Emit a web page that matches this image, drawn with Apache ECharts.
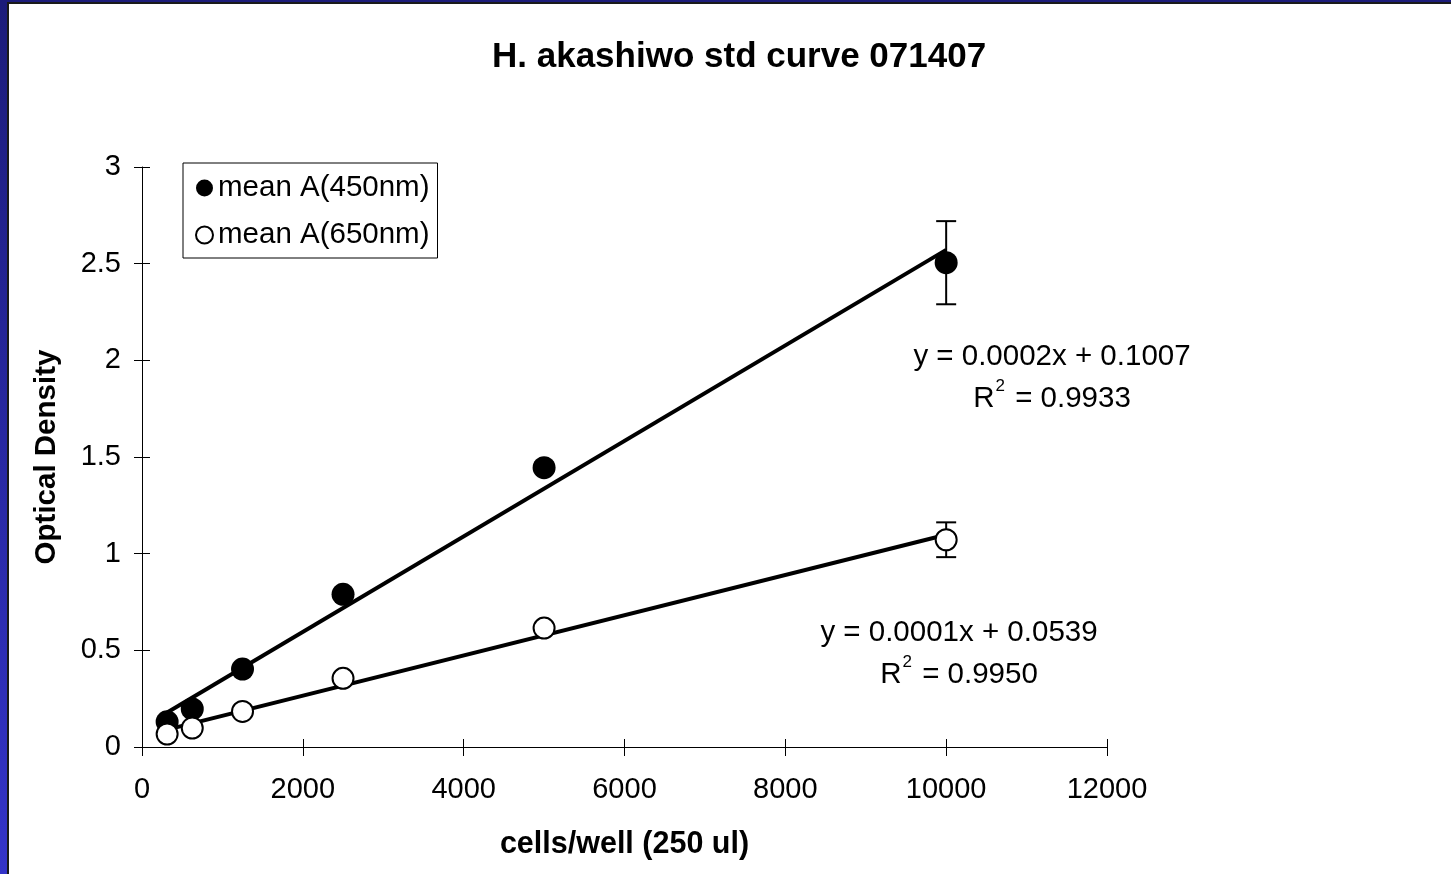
<!DOCTYPE html>
<html>
<head>
<meta charset="utf-8">
<script src="https://cdn.jsdelivr.net/npm/echarts@6/dist/echarts.min.js"></script>
<style>
  html, body { margin: 0; padding: 0; }
  #frame { position: absolute; left: 0; top: 0; width: 1451px; height: 874px;
           background: linear-gradient(to bottom, #1c1c7a, #3434c8); }
  #paper { position: absolute; left: 7px; top: 2px; right: 0; bottom: 0; background: #fff;
           border-left: 2px solid #1a1a1a; border-top: 2px solid #1a1a1a; }
  #chart { position: absolute; left: 0; top: 0; width: 1451px; height: 874px; }
</style>
</head>
<body>
<div id="frame"><div id="paper"></div></div>
<div id="chart"></div>
<script>
// cells per well
var cells = [312.5, 625, 1250, 2500, 5000, 10000];
// mean absorbance at 450 nm and 650 nm
var a450 = [0.13, 0.197, 0.403, 0.79, 1.445, 2.505];
var a650 = [0.067, 0.098, 0.184, 0.355, 0.615, 1.072];
// error bar half-heights
var err450 = [0.012, 0.012, 0.012, 0.012, 0.012, 0.215];
var err650 = [0.006, 0.006, 0.006, 0.006, 0.006, 0.09];
// trendline labels
var eq450 = ['y = 0.0002x + 0.1007', '0.9933'];
var eq650 = ['y = 0.0001x + 0.0539', '0.9950'];

var FONT = 'Liberation Sans, Arial, sans-serif';

function pairs(xs, ys) {
    return xs.map(function (x, i) { return [x, ys[i]]; });
}
function errData(xs, ys, es) {
    return xs.map(function (x, i) { return [x, ys[i] - es[i], ys[i] + es[i]]; });
}
// least squares line over the data range (the Excel trendline)
function fit(xs, ys) {
    var n = xs.length, mx = 0, my = 0, sxy = 0, sxx = 0;
    for (var i = 0; i < n; i++) { mx += xs[i] / n; my += ys[i] / n; }
    for (var i = 0; i < n; i++) { sxy += (xs[i] - mx) * (ys[i] - my); sxx += (xs[i] - mx) * (xs[i] - mx); }
    var b = sxy / sxx, a = my - b * mx;
    var x0 = xs[0], x1 = xs[n - 1];
    return [[x0, a + b * x0], [x1, a + b * x1]];
}

function errorBar(params, api) {
    var x = api.value(0);
    var lo = api.coord([x, api.value(1)]);
    var hi = api.coord([x, api.value(2)]);
    var w = 10;
    var st = { stroke: '#000', lineWidth: 2 };
    return {
        type: 'group',
        children: [
            { type: 'line', shape: { x1: hi[0], y1: hi[1], x2: lo[0], y2: lo[1] }, style: st },
            { type: 'line', shape: { x1: hi[0] - w, y1: hi[1], x2: hi[0] + w, y2: hi[1] }, style: st },
            { type: 'line', shape: { x1: lo[0] - w, y1: lo[1], x2: lo[0] + w, y2: lo[1] }, style: st }
        ]
    };
}

function eqText(x, y, lines) {
    return {
        type: 'text', x: x, y: y,
        style: {
            text: '{r|' + lines[0] + '}\n{r|R}{s|2}{r| = ' + lines[1] + '}',
            font: '29.5px ' + FONT, fill: '#000', textAlign: 'center', textVerticalAlign: 'top',
            rich: {
                r: { fontSize: 29.5, fontFamily: FONT, lineHeight: 42 },
                s: { fontSize: 17, fontFamily: FONT, verticalAlign: 'top', padding: [0, 2, 14, 1] }
            }
        }
    };
}

var chart = echarts.init(document.getElementById('chart'));
var option = {
    backgroundColor: 'transparent',
    animation: false,
    title: {
        text: 'H. akashiwo std curve 071407',
        left: 487, top: 35,
        textStyle: { fontFamily: FONT, fontSize: 35, fontWeight: 'bold', color: '#000' }
    },
    legend: {
        data: ['mean A(450nm)', 'mean A(650nm)'],
        orient: 'vertical', left: 183, top: 163,
        padding: [10, 8, 8, 12], itemGap: 17, itemWidth: 17, itemHeight: 17, itemTextGap: 16,
        borderColor: '#000', borderWidth: 1, borderRadius: 0, backgroundColor: '#fff',
        textStyle: { fontFamily: FONT, fontSize: 29.5, color: '#000' }
    },
    grid: { left: 142, right: 344, top: 167, bottom: 127 },
    xAxis: [{
        type: 'value', min: 0, max: 12000, interval: 2000,
        name: 'cells/well (250 ul)', nameLocation: 'middle', nameGap: 82,
        nameTextStyle: { fontFamily: FONT, fontSize: 30.5, fontWeight: 'bold', color: '#000' },
        axisLine: { lineStyle: { color: '#000', width: 1 } },
        axisTick: { length: 9, lineStyle: { color: '#000' } },
        axisLabel: { fontFamily: FONT, fontSize: 29, color: '#000', margin: 28,
            formatter: function (v) { return String(v); } },
        splitLine: { show: false }
    }, {
        type: 'value', min: 0, max: 12000, interval: 2000, position: 'bottom',
        axisLine: { show: false }, axisLabel: { show: false }, splitLine: { show: false },
        axisTick: { inside: true, length: 8, lineStyle: { color: '#000' } }
    }],
    yAxis: [{
        type: 'value', min: 0, max: 3, interval: 0.5,
        name: 'Optical Density', nameLocation: 'middle', nameGap: 80,
        nameTextStyle: { fontFamily: FONT, fontSize: 29.5, fontWeight: 'bold', color: '#000' },
        axisLine: { show: true, lineStyle: { color: '#000', width: 1 } },
        axisTick: { show: true, length: 8, lineStyle: { color: '#000' } },
        axisLabel: { fontFamily: FONT, fontSize: 29, color: '#000', margin: 21 },
        splitLine: { show: false }
    }, {
        type: 'value', min: 0, max: 3, interval: 0.5, position: 'left',
        axisLine: { show: false }, axisLabel: { show: false }, splitLine: { show: false },
        axisTick: { show: true, inside: true, length: 8, lineStyle: { color: '#000' } }
    }],
    series: [
        {
            name: 'fit450', type: 'line', data: fit(cells, a450), symbol: 'none', z: 2,
            lineStyle: { color: '#000', width: 4 }, silent: true
        },
        {
            name: 'fit650', type: 'line', data: fit(cells, a650), symbol: 'none', z: 2,
            lineStyle: { color: '#000', width: 4 }, silent: true
        },
        { name: 'err450', type: 'custom', renderItem: errorBar, data: errData(cells, a450, err450), z: 3 },
        { name: 'err650', type: 'custom', renderItem: errorBar, data: errData(cells, a650, err650), z: 3 },
        {
            name: 'mean A(450nm)', type: 'scatter', data: pairs(cells, a450), symbol: 'circle', symbolSize: 23, z: 5,
            itemStyle: { color: '#000', opacity: 1 }
        },
        {
            name: 'mean A(650nm)', type: 'scatter', data: pairs(cells, a650), symbol: 'circle', symbolSize: 21, z: 5,
            itemStyle: { color: '#fff', borderColor: '#000', borderWidth: 2, opacity: 1 }
        }
    ],
    graphic: [
        eqText(1052, 336, eq450),
        eqText(959, 612, eq650)
    ]
};
chart.setOption(option);
</script>
</body>
</html>
